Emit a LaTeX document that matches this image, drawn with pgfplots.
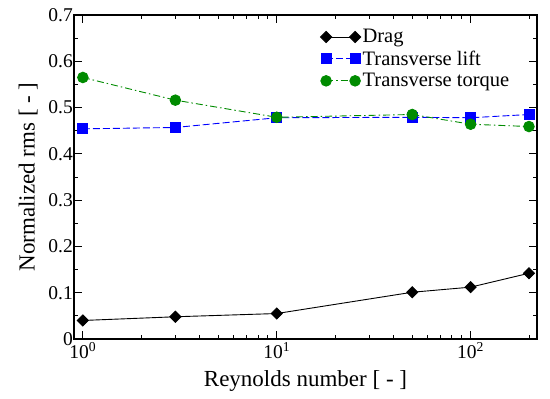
\documentclass[border=0pt]{standalone}
\usepackage{fontspec}
\setmainfont{Liberation Serif}
\usepackage{pgfplots}
\pgfplotsset{compat=1.18}
\definecolor{ggreen}{RGB}{0,139,0}
\definecolor{gblue}{RGB}{0,0,255}
\begin{document}
\begin{tikzpicture}
\begin{axis}[
  name=ax,
  scale only axis,
  width=463pt, height=324pt,
  xmode=log,
  xmin=0.9, xmax=220,
  ymin=0, ymax=0.7,
  xtick={1,10,100},
  xticklabels={10\textsuperscript{0},10\textsuperscript{1},10\textsuperscript{2}},
  minor xtick={2,3,4,5,6,7,8,9,20,30,40,50,60,70,80,90,200},
  ytick={0,0.1,0.2,0.3,0.4,0.5,0.6,0.7},
  yticklabels={0,0.1,0.2,0.3,0.4,0.5,0.6,0.7},
  minor ytick={0.05,0.15,0.25,0.35,0.45,0.55,0.65},
  tick align=inside,
  major tick length=8pt,
  minor tick length=4pt,
  every tick/.style={black, line width=0.8pt},
  axis line style={line width=1.1pt},
  tick label style={font=\fontsize{19.5}{21}\selectfont},
  yticklabel style={inner xsep=1pt},
  xticklabel style={inner ysep=3pt},
  xlabel={Reynolds number [ - ]},
  ylabel={Normalized rms [ - ]},
  label style={font=\fontsize{23}{25}\selectfont},
  xlabel style={at={(axis description cs:0.5,-0.13)}, anchor=center},
  ylabel style={at={(axis description cs:-0.099,0.5)}, anchor=center},
  legend style={at={(axis description cs:0.53,0.965)}, anchor=north west,
    draw=none, fill=none, font=\fontsize{20.5}{21}\selectfont,
    row sep=2.5pt, inner sep=1pt},
  legend cell align=left,
  legend image code/.code={\draw[#1] plot coordinates {(0pt,0pt) (29pt,0pt)};},
]
\addplot[black, line width=0.9pt, mark=square*, mark size=3.9pt, mark options={rotate=45, solid}]
  coordinates {(1,0.040) (3,0.048) (10,0.055) (50,0.101) (100,0.112) (200,0.142)};
\addlegendentry{Drag}
\addplot[gblue, line width=0.9pt, dash pattern=on 7pt off 3pt, mark=square*, mark size=5pt, mark options={solid}]
  coordinates {(1,0.454) (3,0.457) (10,0.478) (50,0.479) (100,0.478) (200,0.485)};
\addlegendentry{Transverse lift}
\addplot[ggreen, line width=0.9pt, dash pattern=on 7pt off 3pt on 1.5pt off 3pt, mark=*, mark size=5.3pt, mark options={solid}]
  coordinates {(1,0.565) (3,0.516) (10,0.479) (50,0.485) (100,0.464) (200,0.459)};
\addlegendentry{Transverse torque}
\end{axis}
\pgfresetboundingbox
\path (ax.south west) ++(-74pt,-60pt) rectangle ([shift={(13pt,15pt)}]ax.north east);
\end{tikzpicture}
\end{document}
